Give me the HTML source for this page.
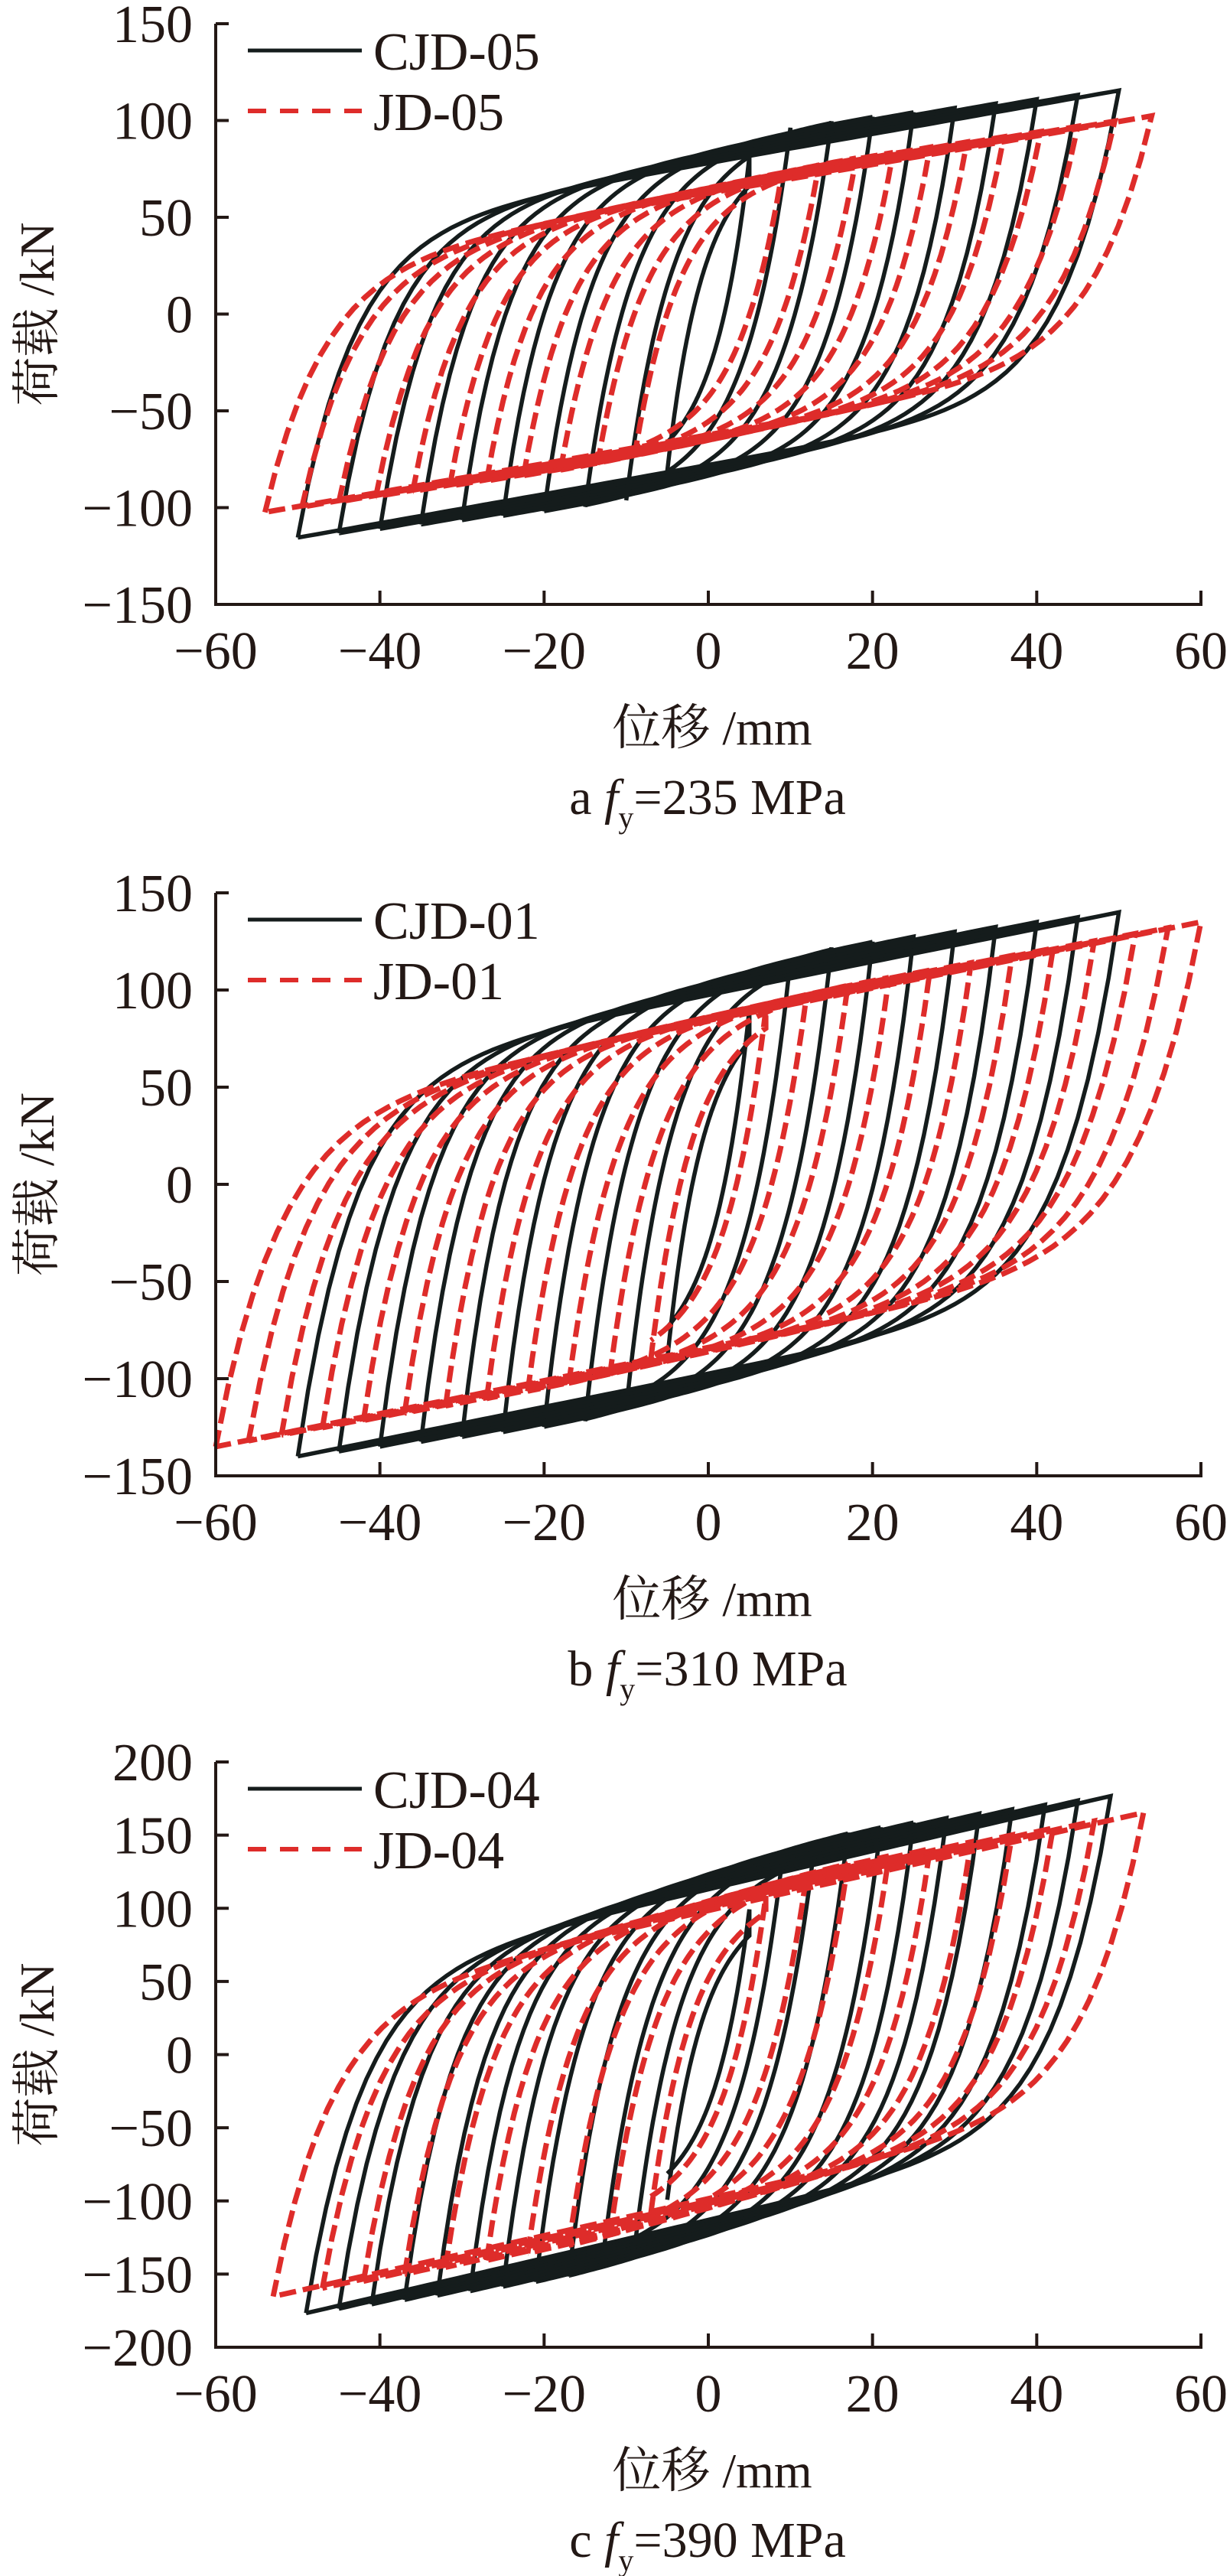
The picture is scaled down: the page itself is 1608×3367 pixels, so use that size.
<!DOCTYPE html>
<html><head><meta charset="utf-8">
<style>
html,body{margin:0;padding:0;background:#fff;}
svg{display:block;}
text{font-family:"Liberation Serif","Noto Serif CJK SC",serif;fill:#231815;}
</style></head>
<body>
<svg id="s" width="1608" height="3367" viewBox="0 0 1608 3367" xmlns="http://www.w3.org/2000/svg">
<rect width="1608" height="3367" fill="#fff"/>
<g id="curves"></g>
<g id="axes" stroke="#231815" stroke-width="4" fill="none"></g>
<g id="txt" font-size="70"></g>
</svg>
<script>
const NS="http://www.w3.org/2000/svg";
const X0=282, XS=214.67/20, XZ=926, XR=1572;
const charts=[
 {top:31,zero:410.5,bot:790,ys:2.53,ymax:150,leg:["CJD-05","JD-05"],cap:["a","235"],
  blk:{Fy:93,k2:0.45,a0:4,ks:0.75,amps:[5,10,15,20,25,30,35,40,45,50]},
  red:{Fy:70,k2:0.6,a0:4,ks:0.74,amps:[9,13.5,18,22.5,27,31.5,36,40.5,45,49.5,54]}},
 {top:1167,zero:1548,bot:1929,ys:2.54,ymax:150,leg:["CJD-01","JD-01"],cap:["b","310"],
  blk:{Fy:115,k2:0.5,a0:5,ks:0.85,amps:[5,10,15,20,25,30,35,40,45,50]},
  red:{Fy:90,k2:0.75,a0:4,ks:0.85,amps:[7,12,17,22,27,32,37,42,47,52,56,60]}},
 {top:2303,zero:2685.5,bot:3068,ys:1.912,ymax:200,leg:["CJD-04","JD-04"],cap:["c","390"],
  blk:{Fy:140,k2:0.75,a0:6,ks:1.3,amps:[5,9,13,17,21,25,29,33,37,41,45,49]},
  red:{Fy:115,k2:0.95,a0:5,ks:1.26,amps:[7,12,17,22,27,32,37,42,47,53]}}
];
function el(tag,attrs,parent,txt){const e=document.createElementNS(NS,tag);for(const k in attrs)e.setAttribute(k,attrs[k]);if(txt!==undefined)e.textContent=txt;parent.appendChild(e);return e;}
const G=document.getElementById("curves"),A=document.getElementById("axes"),T=document.getElementById("txt");
function env(p,a){return p.Fy*Math.tanh(a/p.a0)+p.k2*a;}
function loopPath(c,p,a){
  const Fa=env(p,a), dc=a*(0.11+0.9*Math.exp(-a/10))+1.0;
  const L=d=>Fa+p.ks*(d-a);
  const up=d=>L(d)-(L(-a)+Fa)*Math.exp(-(d+a)/dc);
  const px=d=>XZ+d*XS, py=f=>c.zero-f*c.ys;
  let s="";const n=80;
  for(let i=0;i<=n;i++){const d=-a+2*a*i/n;s+=(i?"L":"M")+px(d).toFixed(1)+" "+py(up(d)).toFixed(1);}
  for(let i=0;i<=n;i++){const d=a-2*a*i/n;s+="L"+px(d).toFixed(1)+" "+py(-up(-d)).toFixed(1);}
  return s;
}
charts.forEach(c=>{
  c.blk.amps.forEach(a=>el("path",{d:loopPath(c,c.blk,a),stroke:"#151c1c","stroke-width":5.5,fill:"none"},G));
  c.red.amps.forEach((a,i)=>el("path",{d:loopPath(c,c.red,a),stroke:"#de2c2a","stroke-width":7,fill:"none","stroke-dasharray":"22 9"},G));
  el("path",{d:`M${X0} ${c.top}V${c.bot}H${XR}`},A);
  const step=50, nt=2*c.ymax/step;
  for(let i=0;i<=nt;i++){const v=c.ymax-i*step;const y=c.top+i*(c.bot-c.top)/nt;
    if(i<nt)el("path",{d:`M${X0} ${y}h17`},A);
    el("text",{x:252,y:y+24,"text-anchor":"end"},T,(v<0?"\u2212":"")+Math.abs(v));}
  for(let v=-60;v<=60;v+=20){const x=XZ+v*XS;
    if(v>-60)el("path",{d:`M${x} ${c.bot}v-18`},A);
    el("text",{x:x,y:c.bot+84,"text-anchor":"middle"},T,(v<0?"\u2212":"")+Math.abs(v));}
  const ly1=c.top+35, ly2=c.top+114;
  el("path",{d:`M324 ${ly1}H473`,stroke:"#151c1c","stroke-width":5},A);
  el("path",{d:`M324 ${ly2}H473`,stroke:"#de2c2a","stroke-width":6,"stroke-dasharray":"24 18"},A);
  el("text",{x:488,y:ly1+25},T,c.leg[0]);
  el("text",{x:488,y:ly2+25},T,c.leg[1]);
  const xl=el("text",{x:931,y:c.bot+183,"text-anchor":"middle","font-size":64},T);
  el("tspan",{"font-family":"Noto Serif CJK SC, serif"},xl,"位移");
  el("tspan",{},xl," /mm");
  const cp=el("text",{x:925,y:c.bot+274,"text-anchor":"middle","font-size":66},T);
  el("tspan",{},cp,c.cap[0]+" ");
  el("tspan",{"font-style":"italic"},cp,"f");
  el("tspan",{"font-size":40,dy:18},cp,"y");
  el("tspan",{dy:-18},cp,"="+c.cap[1]+" MPa");
  const yc=(c.top+c.bot)/2;
  const yl=el("text",{x:0,y:0,"text-anchor":"middle","font-size":64,transform:`translate(70 ${yc}) rotate(-90)`},T);
  el("tspan",{"font-family":"Noto Serif CJK SC, serif"},yl,"荷载");
  el("tspan",{},yl," /kN");
});
</script>
</body></html>
